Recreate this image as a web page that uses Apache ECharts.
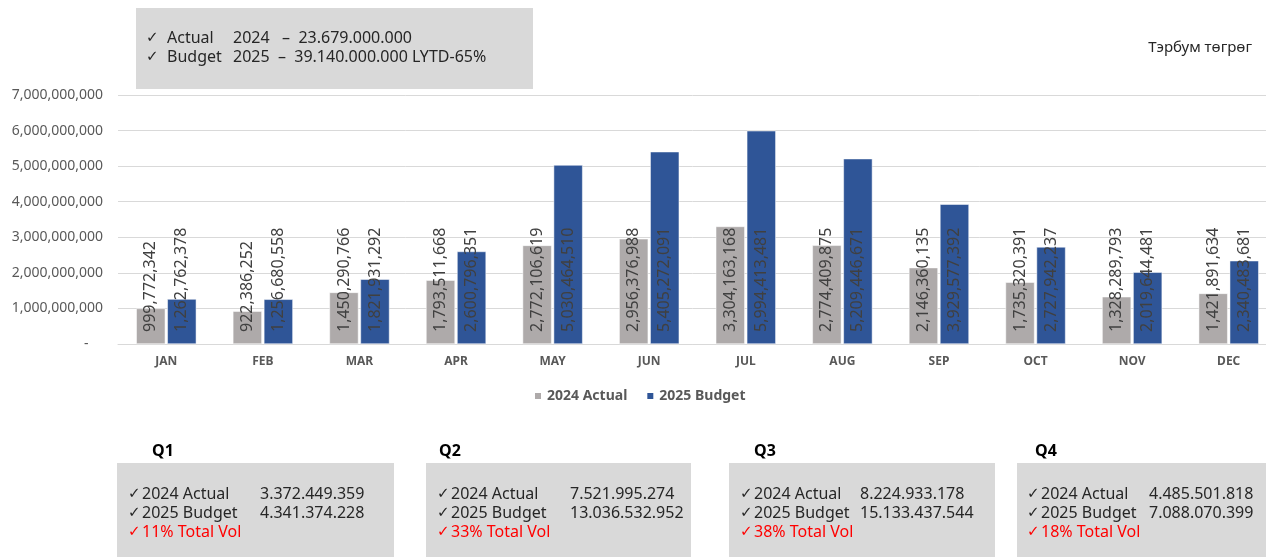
<!DOCTYPE html>
<html><head><meta charset="utf-8">
<script src="https://cdn.jsdelivr.net/npm/echarts@6/dist/echarts.min.js"></script>
<style>html,body{margin:0;padding:0;background:#fff}#c{width:1266px;height:557px}</style>
</head><body><div id="c"></div>
<script>
const months = ['JAN','FEB','MAR','APR','MAY','JUN','JUL','AUG','SEP','OCT','NOV','DEC'];
const actual2024 = [999772342, 922386252, 1450290766, 1793511668, 2772106619, 2956376988, 3304163168, 2774409875, 2146360135, 1735320391, 1328289793, 1421891634];
const budget2025 = [1262762378, 1256680558, 1821931292, 2600796351, 5030464510, 5405272091, 5994413481, 5209446671, 3929577392, 2727942237, 2019644481, 2340483681];
const seriesNames = ['2024 Actual', '2025 Budget'];
const headerLines = [['Actual', '2024   –  23.679.000.000'], ['Budget', '2025  –  39.140.000.000 LYTD-65%']];
const unitText = 'Тэрбум төгрөг';
const quarters = ['Q1', 'Q2', 'Q3', 'Q4'];
const qActual = ['3.372.449.359', '7.521.995.274', '8.224.933.178', '4.485.501.818'];
const qBudget = ['4.341.374.228', '13.036.532.952', '15.133.437.544', '7.088.070.399'];
const qShare = ['11% Total Vol', '33% Total Vol', '38% Total Vol', '18% Total Vol'];

const FONT = "'Noto Sans','DejaVu Sans',sans-serif";
const fmt = v => Number(v).toLocaleString('en-US');

const qBoxes = [
  {bx:117, bw:277, lx:152, cx:128, vx:260},
  {bx:426, bw:265, lx:439, cx:437, vx:570},
  {bx:729, bw:266, lx:754, cx:740, vx:860},
  {bx:1017, bw:249, lx:1035, cx:1027, vx:1149}
];
const graphics = [];
graphics.push({type:'rect', shape:{x:136, y:8, width:397, height:81}, style:{fill:'#d9d9d9'}, silent:true});
headerLines.forEach((ln, i) => {
  const y = 38 + i * 19;
  const f = '16px ' + FONT;
  graphics.push({type:'text', x:146, y, style:{text:'✓', font:'15px ' + FONT, fill:'#262626', verticalAlign:'middle'}});
  graphics.push({type:'text', x:167, y, style:{text:ln[0], font:f, fill:'#262626', verticalAlign:'middle'}});
  graphics.push({type:'text', x:233, y, style:{text:ln[1], font:f, fill:'#262626', verticalAlign:'middle'}});
});
graphics.push({type:'text', x:1252, y:48, style:{text:unitText, font:'15px ' + FONT, fill:'#262626', align:'right', verticalAlign:'middle'}});
quarters.forEach((q, i) => {
  const b = qBoxes[i];
  graphics.push({type:'text', x:b.lx, y:451, style:{text:q, font:'bold 16px ' + FONT, fill:'#000', verticalAlign:'middle'}});
  graphics.push({type:'rect', shape:{x:b.bx, y:463, width:b.bw, height:94}, style:{fill:'#d9d9d9'}, silent:true});
  const f = '16px ' + FONT;
  const rows = [['2024 Actual', qActual[i], '#262626'], ['2025 Budget', qBudget[i], '#262626'], [qShare[i], '', '#ff0000']];
  rows.forEach((r, j) => {
    const y = 494 + j * 19;
    graphics.push({type:'text', x:b.cx, y, style:{text:'✓', font:'15px ' + FONT, fill:r[2], verticalAlign:'middle'}});
    graphics.push({type:'text', x:b.cx + 14, y, style:{text:r[0], font:f, fill:r[2], verticalAlign:'middle'}});
    if (r[1]) graphics.push({type:'text', x:b.vx, y, style:{text:r[1], font:f, fill:r[2], verticalAlign:'middle'}});
  });
});

const labelCfg = {
  show:true, position:'insideBottom', rotate:90, align:'left', verticalAlign:'middle',
  distance:12, fontSize:16, color:'#404040', fontFamily:FONT,
  formatter: p => fmt(p.value)
};

const chart = echarts.init(document.getElementById('c'));
chart.setOption({
  backgroundColor:'#fff',
  animation:false,
  textStyle:{fontFamily:FONT},
  grid:{left:118, width:1159, top:95, height:249, containLabel:false, outerBoundsMode:'none'},
  legend:{
    data:seriesNames, left:528, top:384, icon:'rect', itemWidth:8, itemHeight:8, itemGap:18,
    textStyle:{fontSize:14, fontWeight:'bold', color:'#595959', fontFamily:FONT}
  },
  xAxis:{
    type:'category', data:months,
    axisLine:{lineStyle:{color:'#d9d9d9'}}, axisTick:{show:false},
    axisLabel:{color:'#595959', fontWeight:'bold', fontSize:12, margin:12}
  },
  yAxis:{
    type:'value', min:0, max:7000000000, interval:1000000000,
    axisLine:{show:false}, axisTick:{show:false},
    splitLine:{lineStyle:{color:'#d9d9d9'}},
    axisLabel:{color:'#595959', fontSize:14, margin:15, formatter: v => v === 0 ? '-    ' : fmt(v)}
  },
  series:[
    {name:seriesNames[0], type:'bar', data:actual2024, barWidth:29, barGap:'7%',
     itemStyle:{color:'#aeaaaa', borderColor:'#fff', borderWidth:0.5}, label:labelCfg},
    {name:seriesNames[1], type:'bar', data:budget2025, barWidth:29,
     itemStyle:{color:'#2f5597', borderColor:'#fff', borderWidth:0.5}, label:labelCfg}
  ],
  graphic:graphics
});
</script></body></html>
